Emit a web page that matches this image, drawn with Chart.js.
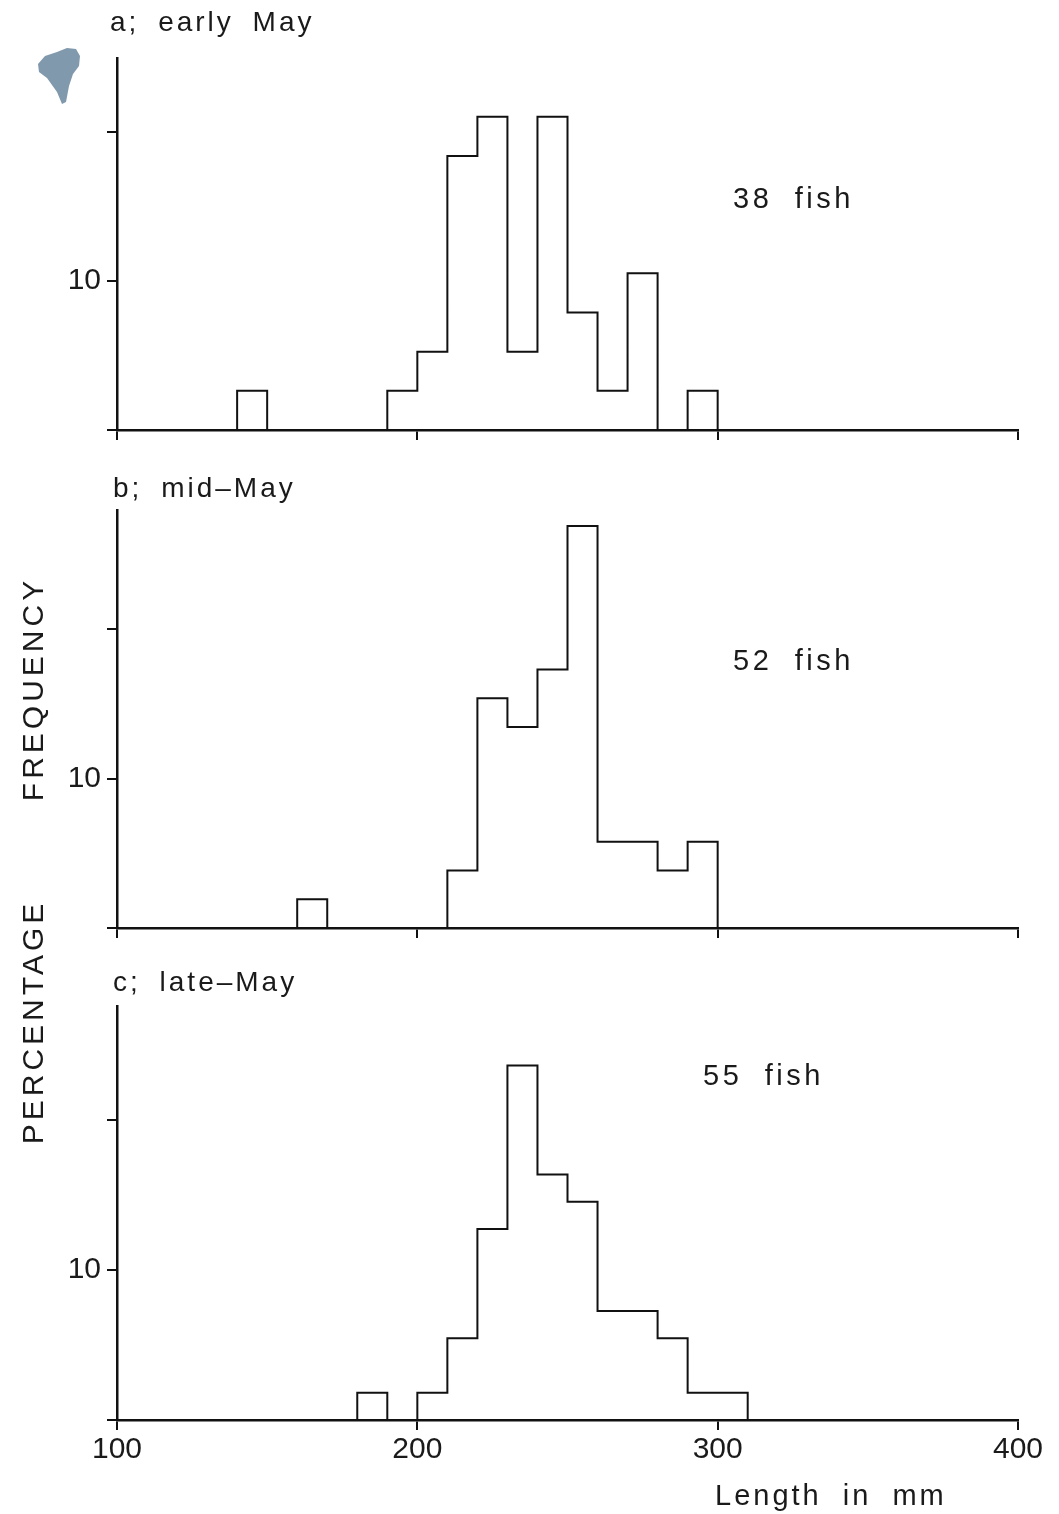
<!DOCTYPE html>
<html>
<head>
<meta charset="utf-8">
<script src="https://cdn.jsdelivr.net/npm/chart.js@4.4.1/dist/chart.umd.min.js"></script>
<style>
  html, body { margin: 0; padding: 0; background: #fff; }
  #page {
    position: relative; width: 1059px; height: 1514px; overflow: hidden;
    font-family: "Liberation Sans", Arial, sans-serif; color: #1a1a1a;
  }
  canvas { position: absolute; left: 0; }
  .txt {
    position: absolute; font-size: 28px; line-height: 28px;
    letter-spacing: 3px; word-spacing: 8px; white-space: nowrap;
  }
  .note { font-size: 29px; letter-spacing: 3.5px; word-spacing: 11px; }
  .ylab {
    position: absolute; font-size: 30px; line-height: 30px; letter-spacing: 4px;
    white-space: nowrap; transform: translate(-50%, -50%) rotate(-90deg);
  }
  #stain {
    position: absolute; left: 35px; top: 46px; width: 48px; height: 62px;
    background: #8199ad; filter: blur(1.2px);
    clip-path: polygon(3px 18px, 10px 10px, 22px 6px, 32px 2px, 41px 3px, 45px 10px, 44px 20px,
      38px 28px, 34px 40px, 31px 56px, 27px 58px, 22px 46px, 12px 32px, 4px 26px);
  }
</style>
</head>
<body>
<div id="page">
  <div id="stain"></div>
  <canvas id="chartA" width="1059" height="470" style="top:0px"></canvas>
  <canvas id="chartB" width="1059" height="500" style="top:470px"></canvas>
  <canvas id="chartC" width="1059" height="544" style="top:970px"></canvas>

  <div class="txt" style="left:110px; top:8px">a; early May</div>
  <div class="txt" style="left:113px; top:474px">b; mid–May</div>
  <div class="txt" style="left:113px; top:968px">c; late–May</div>

  <div class="txt note" id="countA" style="left:733px; top:184px"></div>
  <div class="txt note" id="countB" style="left:733px; top:646px"></div>
  <div class="txt note" id="countC" style="left:703px; top:1061px"></div>

  <div class="ylab" style="left:33px; top:689px">FREQUENCY</div>
  <div class="ylab" style="left:33px; top:1022px">PERCENTAGE</div>
  <div class="txt note" style="left:715px; top:1481px; letter-spacing:3px; word-spacing:10px">Length in mm</div>
</div>

<script>
// 10 mm length classes (lower bound of each class)
const binStarts = [140, 150, 160, 170, 180, 190, 200, 210, 220, 230, 240, 250, 260, 270, 280, 290, 300];
const binWidth = 10;

// number of fish in each class
const earlyMay = [1, 0, 0, 0, 0, 1, 2, 7, 8, 2, 8, 3, 1, 4, 0, 1, 0];
const midMay   = [0, 0, 1, 0, 0, 0, 0, 2, 8, 7, 9, 14, 3, 3, 2, 3, 0];
const lateMay  = [0, 0, 0, 0, 1, 0, 1, 3, 7, 13, 9, 8, 4, 4, 3, 1, 1];

const xTicks = [100, 200, 300, 400];
const yTicks = [0, 10, 20];
const yLabelled = [10];

const FONT = '"Liberation Sans", Arial, sans-serif';
const INK = '#111';

// outline of a histogram as a stepped line (percent of sample)
function histPoints(counts) {
	const total = counts.reduce((a, b) => a + b, 0);
	const pts = [{ x: binStarts[0], y: 0 }];
	counts.forEach((c, i) => pts.push({ x: binStarts[i], y: c / total * 100 }));
	pts.push({ x: binStarts[binStarts.length - 1] + binWidth, y: 0 });
	return pts;
}

function makePanel(id, counts, o) {
	return new Chart(document.getElementById(id), {
		type: 'line',
		data: {
			datasets: [{
				data: histPoints(counts),
				stepped: true,
				borderColor: INK,
				borderWidth: 2,
				pointRadius: 0,
				fill: false
			}]
		},
		options: {
			responsive: false,
			animation: false,
			layout: { padding: { top: o.top, right: 41, left: 0, bottom: 0 } },
			plugins: { legend: { display: false }, tooltip: { enabled: false } },
			scales: {
				x: {
					type: 'linear',
					min: 100,
					max: 400,
					afterBuildTicks: s => { s.ticks = xTicks.map(v => ({ value: v })); },
					afterFit: s => { s.height = o.xHeight; },
					grid: { drawOnChartArea: false, drawTicks: true, tickLength: 10, color: INK, lineWidth: 2 },
					border: { display: true, color: INK, width: 2.5 },
					ticks: {
						display: o.xLabels,
						padding: 2,
						color: '#1a1a1a',
						maxRotation: 0,
						autoSkip: false,
						font: { family: FONT, size: 30 }
					}
				},
				y: {
					min: 0,
					max: o.yMax,
					afterBuildTicks: s => { s.ticks = yTicks.map(v => ({ value: v })); },
					afterFit: s => { s.width = 117; },
					grid: { drawOnChartArea: false, drawTicks: true, tickLength: 10, color: INK, lineWidth: 2 },
					border: { display: true, color: INK, width: 2.5 },
					ticks: {
						padding: 6,
						color: '#1a1a1a',
						font: { family: FONT, size: 30 },
						callback: v => yLabelled.includes(v) ? String(v) : ''
					}
				}
			}
		}
	});
}

const sum = a => a.reduce((s, v) => s + v, 0);
document.getElementById('countA').textContent = sum(earlyMay) + ' fish';
document.getElementById('countB').textContent = sum(midMay) + ' fish';
document.getElementById('countC').textContent = sum(lateMay) + ' fish';

makePanel('chartA', earlyMay, { top: 58, xHeight: 40, yMax: 25, xLabels: false });
makePanel('chartB', midMay, { top: 40, xHeight: 42, yMax: 28, xLabels: false });
makePanel('chartC', lateMay, { top: 36, xHeight: 94, yMax: 27.6, xLabels: true });
</script>
</body>
</html>
